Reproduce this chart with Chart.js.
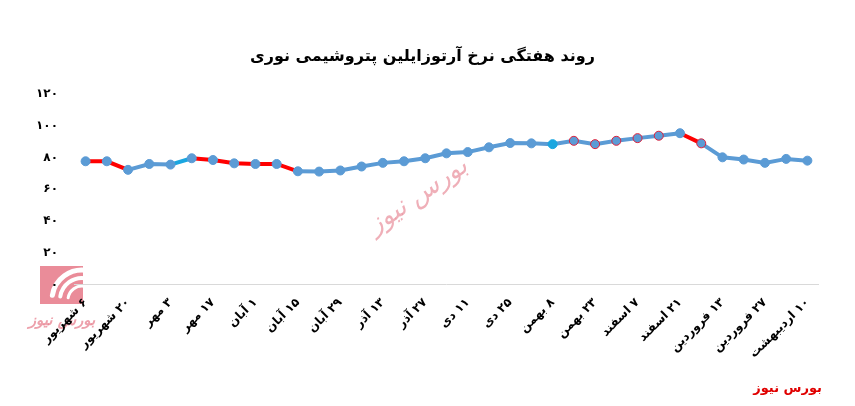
<!DOCTYPE html>
<html>
<head>
<meta charset="utf-8">
<script src="https://cdn.jsdelivr.net/npm/chart.js@4.4.1/dist/chart.umd.min.js"></script>
<style>
  html, body { margin: 0; padding: 0; background: #fff; }
  #wrap { width: 855px; height: 406px; position: relative; }
</style>
</head>
<body>
<div id="wrap"><canvas id="chart" width="855" height="406"></canvas></div>
<script>
// weekly dates, only every other week is labelled
const dateLabels = [
    '۶ شهریور', '', '۲۰ شهریور', '', '۳ مهر', '', '۱۷ مهر', '', '۱ آبان', '',
    '۱۵ آبان', '', '۲۹ آبان', '', '۱۳ آذر', '', '۲۷ آذر', '', '۱۱ دی', '',
    '۲۵ دی', '', '۸ بهمن', '', '۲۳ بهمن', '', '۷ اسفند', '', '۲۱ اسفند', '',
    '۱۳ فروردین', '', '۲۷ فروردین', '', '۱۰ اردیبهشت'
];
const priceValues = [
    77.7, 77.7, 72.3, 76, 75.6, 79.6, 78.5, 76.4, 76, 76,
    71.4, 71.2, 71.9, 74.4, 76.7, 77.7, 79.6, 82.7, 83.5, 86.5,
    89.2, 89, 88.5, 90.6, 88.5, 90.6, 92.3, 93.8, 95.4, 89,
    80.2, 78.8, 76.7, 79.2, 78.1
];
const yTicks = [0, 20, 40, 60, 80, 100, 120];
const faDigits = '۰۱۲۳۴۵۶۷۸۹';
const toFa = n => String(n).replace(/\d/g, d => faDigits[d]);

const BLUE = '#5b9bd5';
const RED = '#ff0000';
const CYAN = '#1aa6e0';
// colours of the line pieces (piece i goes from point i to point i+1)
const redPieces = [0, 1, 5, 6, 7, 8, 9, 28];
const cyanPieces = [4];
const redRingPoints = [23, 24, 25, 26, 27, 29];
const cyanPoints = [22];

const font = "'DejaVu Sans', sans-serif";

const decorPlugin = {
    id: 'decor',
    beforeDraw(chart) {
        const ctx = chart.ctx;
        ctx.save();
        // logo watermark bottom left
        ctx.fillStyle = 'rgba(230,120,135,0.85)';
        ctx.fillRect(40, 266, 43, 38);
        ctx.strokeStyle = '#fff';
        ctx.lineCap = 'round';
        [[82, 300, 30, 5], [82, 300, 22, 4], [82, 300, 14, 3]].forEach(a => {
            ctx.lineWidth = a[3];
            ctx.beginPath();
            ctx.arc(a[0], a[1], a[2], Math.PI * 1.05, Math.PI * 1.55);
            ctx.stroke();
        });
        ctx.fillStyle = 'rgba(230,120,135,0.7)';
        ctx.font = 'italic bold 15px ' + font;
        ctx.textAlign = 'center';
        ctx.fillText('بورس نیوز', 62, 325);
        // centre watermark
        ctx.translate(422, 202);
        ctx.rotate(-0.6);
        ctx.fillStyle = 'rgba(225,110,125,0.55)';
        ctx.font = 'italic 26px ' + font;
        ctx.fillText('بورس نیوز', 0, 0);
        ctx.restore();
    },
    afterDraw(chart) {
        const ctx = chart.ctx;
        ctx.save();
        ctx.fillStyle = '#e00000';
        ctx.font = 'bold 13px ' + font;
        ctx.textAlign = 'right';
        ctx.fillText('بورس نیوز', 822, 392);
        ctx.restore();
    }
};

new Chart(document.getElementById('chart'), {
    type: 'line',
    data: {
        labels: dateLabels,
        datasets: [{
            data: priceValues,
            borderColor: BLUE,
            borderWidth: 4,
            tension: 0,
            pointRadius: 4.5,
            pointBorderWidth: 1,
            pointBackgroundColor: ctx => cyanPoints.includes(ctx.dataIndex) ? CYAN : BLUE,
            pointBorderColor: ctx => redRingPoints.includes(ctx.dataIndex) ? '#e0203a'
                : (cyanPoints.includes(ctx.dataIndex) ? CYAN : BLUE),
            segment: {
                borderColor: ctx => redPieces.includes(ctx.p0DataIndex) ? RED
                    : (cyanPieces.includes(ctx.p0DataIndex) ? CYAN : BLUE)
            }
        }]
    },
    options: {
        responsive: false,
        animation: false,
        layout: { padding: { left: 27, right: 37, top: 47, bottom: 42 } },
        plugins: {
            legend: { display: false },
            tooltip: { enabled: false },
            title: {
                display: true,
                text: 'روند هفتگی نرخ آرتوزایلین پتروشیمی نوری',
                color: '#000',
                font: { family: font, size: 16, weight: 'bold' },
                padding: { top: 0, bottom: 28 }
            }
        },
        scales: {
            x: {
                offset: true,
                grid: { display: false },
                border: { color: '#d9d9d9', width: 1 },
                ticks: {
                    autoSkip: false,
                    minRotation: 45,
                    maxRotation: 45,
                    color: '#000',
                    font: { family: font, size: 12, weight: 'bold' },
                    callback: (v, i) => dateLabels[i] ? '\u200F' + dateLabels[i] : ''
                }
            },
            y: {
                min: 0,
                max: 120,
                afterBuildTicks: axis => { axis.ticks = yTicks.map(v => ({ value: v })); },
                grid: { display: false },
                border: { display: false },
                ticks: {
                    padding: 9,
                    color: '#000',
                    font: { family: font, size: 12, weight: 'bold' },
                    callback: v => toFa(v)
                }
            }
        }
    },
    plugins: [decorPlugin]
});
</script>
</body>
</html>
